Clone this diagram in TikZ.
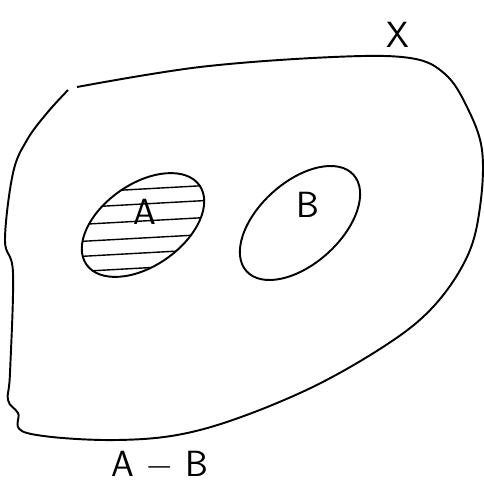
\documentclass[tikz,border=0pt]{standalone}
\usepackage{tikz}
\usetikzlibrary{calc}
\tikzset{
  setline/.style = {line width=1.1pt, black},
  hatch/.style   = {line width=0.8pt, black},
  lbl/.style     = {font=\sffamily\huge, inner sep=0pt},
}

\begin{document}
\begin{tikzpicture}[x=0.02cm, y=-0.02cm]
  \useasboundingbox (0,0) rectangle (484,495);
  % universe X
  \draw[setline] plot[smooth, tension=0.6] coordinates {
    (77,87) (200,67) (333,57) (410,58) (445,74) (467,107) (482,150)
    (480,207) (467,257) (433,307) (383,347) (300,393) (200,430)
    (117,440) (27,433) (18,413) (8,400) (10,373) (13,273) (5,240)
    (13,173) (27,140) (47,113) (68,90)};
  % set A, hatched
  \begin{scope}
    \clip[rotate around={35:(143,225)}] (143,225) ellipse (69 and 41);
    \foreach \yy in {189,204,221,238,253,268}
      \draw[hatch] (70,\yy+4) -- (215,\yy-4);
  \end{scope}
  \draw[setline, rotate around={35:(143,225)}] (143,225) ellipse (69 and 41);
  % set B
  \draw[setline, rotate around={42:(300,223)}] (300,223) ellipse (72 and 41);
  \node[lbl] (labA) at (145,212) {A};
  \node[lbl] (labB) at (308,205) {B};
  \node[lbl] (labX) at (398,35) {X};
  \node[lbl] (caption) at (160,465) {A $-$ B};
\end{tikzpicture}
\end{document}
